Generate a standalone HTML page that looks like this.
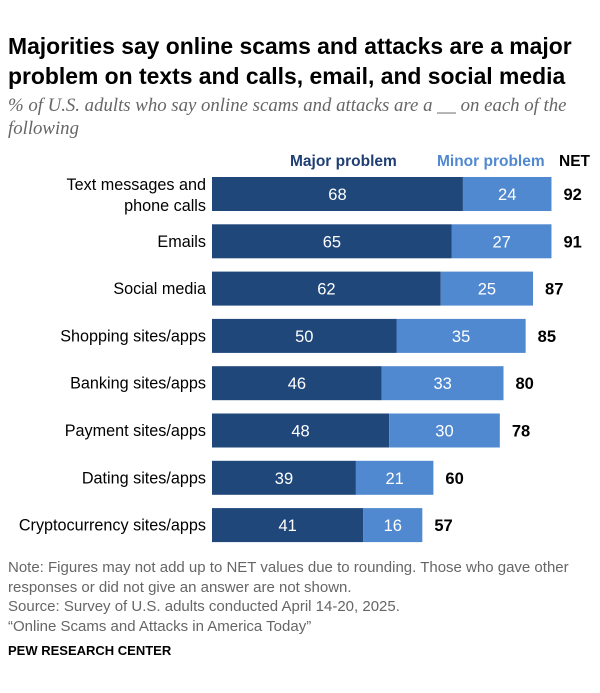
<!DOCTYPE html>
<html><head><meta charset="utf-8"><style>
body{margin:0;background:#fff;font-family:"Liberation Sans",sans-serif;width:600px;height:693px;position:relative;overflow:hidden}
.t{position:absolute;white-space:nowrap}
</style></head><body>
<div class="t" style="left:8px;top:31px;font-size:22.9px;font-weight:bold;line-height:30px;color:#000">Majorities say online scams and attacks are a major<br>problem on texts and calls, email, and social media</div>
<div class="t" style="left:8px;top:94px;font-family:'Liberation Serif',serif;font-style:italic;font-size:18.8px;line-height:23px;color:#666">% of U.S. adults who say online scams and attacks are a __ on each of the<br>following</div>
<div class="t" style="left:290px;top:153px;font-size:15.5px;font-weight:bold;color:#1f3f73">Major problem</div>
<div class="t" style="left:437px;top:153px;font-size:15.5px;font-weight:bold;color:#5089d0">Minor problem</div>
<div class="t" style="left:559px;top:153px;font-size:15.5px;font-weight:bold;color:#000">NET</div>
<svg id="c" width="600" height="693" style="position:absolute;left:0;top:0"></svg>
<div class="t" style="left:8px;top:558px;font-size:15px;line-height:19.5px;color:#666">Note: Figures may not add up to NET values due to rounding. Those who gave other<br>responses or did not give an answer are not shown.<br>Source: Survey of U.S. adults conducted April 14-20, 2025.<br>“Online Scams and Attacks in America Today”</div>
<div class="t" style="left:8px;top:643px;font-size:13px;font-weight:bold;color:#000">PEW RESEARCH CENTER</div>
<script>
const categories=[["Text messages and","phone calls"],["Emails"],["Social media"],["Shopping sites/apps"],["Banking sites/apps"],["Payment sites/apps"],["Dating sites/apps"],["Cryptocurrency sites/apps"]];
const major=[68,65,62,50,46,48,39,41];
const minor=[24,27,25,35,33,30,21,16];
const net=[92,91,87,85,80,78,60,57];
const svg=document.getElementById('c');
const NS='http://www.w3.org/2000/svg';
const x0=212,k=3.69,y0=177,step=47.3,bh=34;
const xs=v=>v*k;
function mk(tag,attrs,txt){const e=document.createElementNS(NS,tag);for(const a in attrs)e.setAttribute(a,attrs[a]);if(txt!==undefined)e.textContent=txt;svg.appendChild(e);return e;}
categories.forEach((c,i)=>{
 const y=y0+i*step,cy=y+bh/2;
 let r=mk('rect',{x:x0,y:y,width:xs(major[i]),height:bh,fill:'#1f477a'});
 
 
 r=mk('rect',{x:x0+xs(major[i]),y:y,width:xs(minor[i]),height:bh,fill:'#5089d0'});
 
 
 let t=mk('text',{x:x0+xs(major[i])/2,y:cy+6,'text-anchor':'middle','font-size':16.5,fill:'#fff'},major[i]);
 
 
 t=mk('text',{x:x0+xs(major[i])+xs(minor[i])/2,y:cy+6,'text-anchor':'middle','font-size':16.5,fill:'#fff'},minor[i]);
 
 
 t=mk('text',{x:x0+xs(major[i]+minor[i])+12,y:cy+6,'font-size':16.5,'font-weight':'bold',fill:'#000'},net[i]);
 
 
 c.forEach((line,j)=>{
  const ly=c.length==1?cy+5.5:cy-4+j*21;
  const l=mk('text',{x:206,y:ly,'text-anchor':'end','font-size':16.2,fill:'#000'},line);
  
  
 });
});
</script>
</body></html>
